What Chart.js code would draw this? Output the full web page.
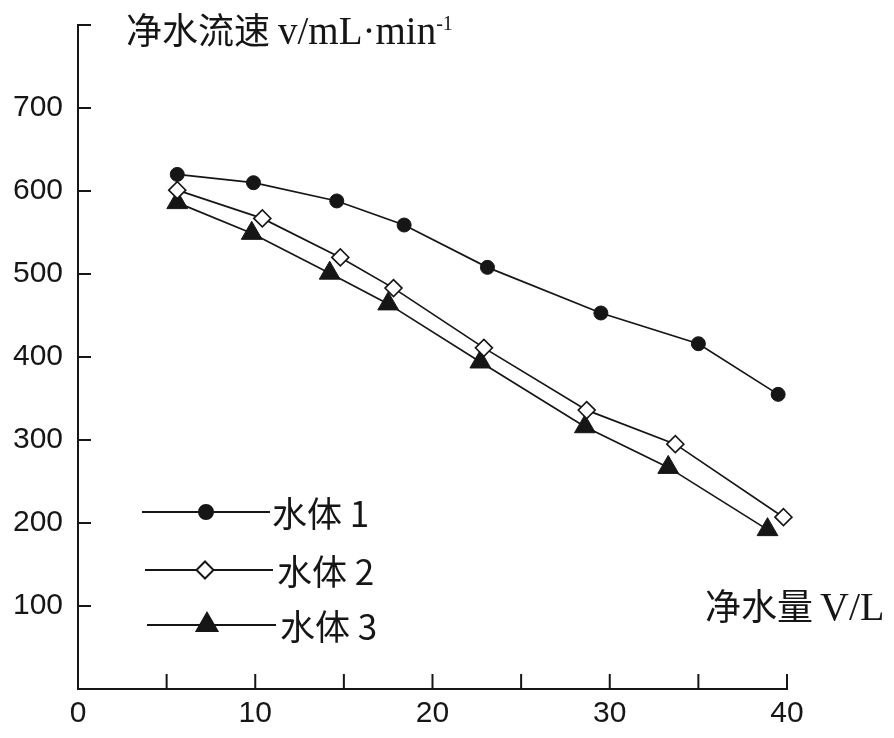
<!DOCTYPE html>
<html>
<head>
<meta charset="utf-8">
<script src="https://cdn.jsdelivr.net/npm/chart.js@4.4.1/dist/chart.umd.min.js"></script>
<style>
  html, body { margin: 0; padding: 0; background: #fff; }
  #wrap { width: 894px; height: 738px; position: relative; }
</style>
</head>
<body>
<div id="wrap"><canvas id="flowChart"></canvas></div>
<script>
// values: purified volume (L) vs flow rate (mL/min)
const seriesNames = ['水体 1', '水体 2', '水体 3'];
const volume1 = [5.6, 9.9, 14.6, 18.4, 23.1, 29.5, 35.0, 39.5];
const rate1   = [620, 610, 588, 559, 508, 453, 416, 355];
const volume2 = [5.6, 10.4, 14.8, 17.8, 22.9, 28.7, 33.7, 39.8];
const rate2   = [601, 567, 520, 483, 411, 336, 295, 207];
const volume3 = [5.6, 9.8, 14.2, 17.5, 22.7, 28.6, 33.3, 38.9];
const rate3   = [586, 549, 501, 464, 394, 316, 267, 192];
const xTicks = [0, 10, 20, 30, 40];
const yTicks = [100, 200, 300, 400, 500, 600, 700];

const ink = '#161616';
const cjkFont = '"Noto Sans CJK SC", sans-serif';
const serifFont = '"Liberation Serif", serif';
const tickFont = '"Liberation Sans", sans-serif';

function toPoints(xs, ys) {
    return xs.map((x, i) => ({ x: x, y: ys[i] }));
}

// draws inward tick marks, axis titles and the in-plot legend
const decorations = {
    id: 'decorations',
    afterDatasetsDraw(chart) {
        const ctx = chart.ctx;
        const xs = chart.scales.x;
        const ys = chart.scales.y;
        const area = chart.chartArea;
        ctx.save();
        ctx.strokeStyle = ink;
        ctx.lineWidth = 2;
        ctx.beginPath();
        for (let v = 5; v <= 40; v += 5) {
            const px = xs.getPixelForValue(v);
            ctx.moveTo(px, area.bottom);
            ctx.lineTo(px, area.bottom - 15);
        }
        for (let v = 100; v <= 800; v += 100) {
            const py = ys.getPixelForValue(v);
            ctx.moveTo(area.left, py);
            ctx.lineTo(area.left + 13, py);
        }
        ctx.stroke();

        // y axis title (horizontal, at the top)
        ctx.fillStyle = ink;
        ctx.textBaseline = 'alphabetic';
        ctx.textAlign = 'left';
        ctx.font = '36px ' + cjkFont;
        ctx.fillText('净水流速', 126, 44);
        ctx.font = '39px ' + serifFont;
        ctx.fillText('v/mL·min', 278, 44);
        const supX = 278 + ctx.measureText('v/mL·min').width;
        ctx.font = '20px ' + serifFont;
        ctx.fillText('-1', supX, 30);

        // x axis title
        ctx.font = '36px ' + cjkFont;
        ctx.fillText('净水量', 705, 620);
        ctx.font = '40px ' + serifFont;
        ctx.fillText('V/L', 820, 620);

        // legend
        const rows = [
            { y: 512, x1: 142, x2: 270, mx: 206, tx: 272 },
            { y: 570, x1: 145, x2: 273, mx: 205, tx: 277 },
            { y: 625, x1: 147, x2: 276, mx: 207, tx: 280 }
        ];
        chart.data.datasets.forEach((ds, i) => {
            const r = rows[i];
            ctx.strokeStyle = ink;
            ctx.lineWidth = 2;
            ctx.beginPath();
            ctx.moveTo(r.x1, r.y);
            ctx.lineTo(r.x2, r.y);
            ctx.stroke();
            ctx.fillStyle = ds.pointBackgroundColor;
            ctx.strokeStyle = ds.pointBorderColor;
            Chart.helpers.drawPoint(ctx, {
                pointStyle: ds.pointStyle,
                radius: ds.pointRadius,
                borderWidth: ds.pointBorderWidth,
                rotation: 0
            }, r.mx, r.y);
            ctx.fillStyle = ink;
            ctx.font = '35px ' + cjkFont;
            ctx.textBaseline = 'middle';
            ctx.fillText(ds.label, r.tx, r.y + 2);
        });
        ctx.restore();
    }
};

const ctx = document.getElementById('flowChart').getContext('2d');
new Chart(ctx, {
    type: 'scatter',
    data: {
        datasets: [
            {
                label: seriesNames[0],
                data: toPoints(volume1, rate1),
                showLine: true,
                clip: false,
                borderColor: ink,
                borderWidth: 1.7,
                pointStyle: 'circle',
                pointRadius: 7,
                pointBackgroundColor: ink,
                pointBorderColor: ink,
                pointBorderWidth: 1
            },
            {
                label: seriesNames[1],
                data: toPoints(volume2, rate2),
                showLine: true,
                clip: false,
                borderColor: ink,
                borderWidth: 1.7,
                pointStyle: 'rectRot',
                pointRadius: 8.5,
                pointBackgroundColor: '#ffffff',
                pointBorderColor: ink,
                pointBorderWidth: 1.6
            },
            {
                label: seriesNames[2],
                data: toPoints(volume3, rate3),
                showLine: true,
                clip: false,
                borderColor: ink,
                borderWidth: 1.7,
                pointStyle: 'triangle',
                pointRadius: 12,
                pointBackgroundColor: ink,
                pointBorderColor: ink,
                pointBorderWidth: 1
            }
        ]
    },
    options: {
        responsive: true,
        maintainAspectRatio: false,
        animation: false,
        layout: { padding: { top: 25, right: 107, bottom: 0, left: 0 } },
        plugins: {
            legend: { display: false },
            tooltip: { enabled: false }
        },
        scales: {
            x: {
                type: 'linear',
                min: 0,
                max: 40,
                afterFit: (scale) => {
                    scale.height = 49;
                    scale.paddingLeft = 0;
                    scale.paddingRight = 0;
                },
                afterBuildTicks: (scale) => { scale.ticks = xTicks.map(v => ({ value: v })); },
                grid: { display: false, drawTicks: false },
                border: { display: true, color: ink, width: 2 },
                ticks: {
                    color: ink,
                    padding: 7,
                    maxRotation: 0,
                    autoSkip: false,
                    font: { family: tickFont, size: 30 }
                }
            },
            y: {
                type: 'linear',
                min: 0,
                max: 800,
                afterFit: (scale) => {
                    scale.width = 78;
                    scale.paddingTop = 0;
                    scale.paddingBottom = 0;
                },
                afterBuildTicks: (scale) => { scale.ticks = yTicks.map(v => ({ value: v })); },
                grid: { display: false, drawTicks: false },
                border: { display: true, color: ink, width: 2 },
                ticks: {
                    color: ink,
                    padding: 15,
                    autoSkip: false,
                    font: { family: tickFont, size: 30 }
                }
            }
        }
    },
    plugins: [decorations]
});
</script>
</body>
</html>
